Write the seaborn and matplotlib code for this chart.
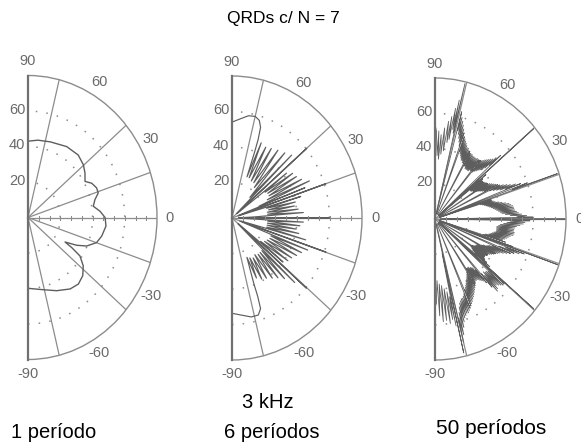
import numpy as np
import pandas as pd
import matplotlib
matplotlib.use("Agg")
import matplotlib.pyplot as plt
import seaborn as sns

sns.set_theme(style="white")
plt.rcParams["font.family"] = ["Liberation Sans", "DejaVu Sans"]

# ---------------------------------------------------------------- data
R_MAX = 80
RINGS = [20, 40, 60]                       # dotted level circles (dB)
SPOKES = [-76, -40.5, -18.5, 0, 18.5, 40.5, 76]   # diffraction-lobe directions (deg)
ANGLE_LABELS = [90, 60, 30, 0, -30, -60, -90]

TITLE = "QRDs c/ N = 7"
FREQ = "3 kHz"
PANEL_NAMES = ["1 período", "6 períodos", "50 períodos"]

# 1 period: (angle deg, level dB)
P1 = [(90, 43), (82, 44), (72, 44.8), (59, 46.6), (48.5, 47), (40.8, 45.4),
      (35.3, 43.3), (29.9, 40.8), (26, 44), (21.4, 45.7), (17.6, 45.7),
      (13.6, 42.7), (8.9, 41), (4.5, 44.8), (0, 47.8), (-5.7, 48.6),
      (-12.9, 46.9), (-18.4, 44.8), (-23.8, 39.8), (-27.4, 34), (-31, 26.8),
      (-32, 32), (-33.9, 38.8), (-38.5, 43.8), (-44, 47.2), (-50.2, 48.8),
      (-57, 48), (-66.7, 44.9), (-76.8, 41.8), (-90, 39.9)]

# 6 periods
P2_UP = [(90, 54), (85, 56), (80, 58.5), (76, 59), (73, 57.5), (71, 54), (70, 47),
         (69.5, 40), (69, 32), (68.3, 25),
         (67, 46), (65, 25), (62.5, 45), (60.3, 24), (58.3, 46), (56, 24),
         (53.5, 47.5), (51.3, 22), (48.5, 49), (46.5, 16), (44, 51), (42.2, 4),
         (40.5, 60.5), (38.8, 4),
         (37, 42), (35.5, 25), (34, 45), (32.3, 26), (30.5, 46), (28.8, 26),
         (27, 48), (25.3, 24), (23.7, 52), (21.8, 18), (20.8, 48), (19.8, 4),
         (18.5, 61), (17.2, 4),
         (16, 44), (14.5, 22), (13, 40), (11.5, 23), (10, 39), (8.5, 22),
         (7, 41), (5.5, 22), (4, 44), (2.5, 14), (1.3, 4)]
P2_LOW = [(0, 60), (-1.3, 5), (-3, 44), (-4.6, 22), (-6, 42), (-7.6, 22), (-9, 40),
          (-10.6, 22), (-12, 42), (-13.6, 22), (-15.2, 47), (-17, 6),
          (-18.4, 61), (-19.8, 5),
          (-21.2, 50), (-22.8, 26), (-24.5, 47), (-26.2, 26), (-28, 45), (-29.8, 25),
          (-31.5, 43), (-33.3, 24), (-35, 42), (-36.8, 22), (-38.3, 40), (-39.5, 5),
          (-40.8, 60.5), (-42, 5),
          (-43.3, 53), (-45, 26), (-46.6, 47), (-48.3, 26), (-50, 44), (-51.8, 26),
          (-53.8, 42), (-55.8, 25), (-58, 40), (-60, 26), (-62, 39), (-64, 25),
          (-66, 37), (-67.5, 24),
          (-69, 31), (-70, 39), (-70.3, 47), (-71, 54), (-73.5, 57), (-78, 57),
          (-84, 55), (-90, 53.7)]

# 50 periods
P3_TOP = [(90, 54), (89, 50), (88, 36), (87.3, 50), (86.5, 34), (85.5, 48),
          (84.5, 37), (83.5, 52), (82.5, 39), (81.5, 56), (80.5, 44), (80, 59),
          (79.3, 46), (78.7, 64), (78, 52), (77.6, 69), (77.2, 50), (76.6, 79), (76, 3)]
P3_B_UP = [(75, 63), (74.5, 52), (74, 60), (73.5, 50), (73, 58), (72.5, 48), (72, 56),
           (71.5, 46), (71, 54), (70.5, 44), (70, 52), (69.5, 3), (69, 50), (68.5, 41),
           (68, 49), (67.5, 40), (67, 48), (66.5, 39), (66, 47), (65.5, 38), (65, 46),
           (64.5, 37), (64, 45), (63.5, 37), (63, 45), (62.5, 36), (62, 44), (61.5, 36),
           (61, 44), (60.5, 3), (60, 43), (59.5, 35), (59, 43), (58.5, 35), (58, 43),
           (57.5, 34), (57, 42.5), (56.5, 34), (56, 42.5), (55.5, 34), (55, 42.5),
           (54.5, 34), (54, 42.5), (53.5, 34), (53, 43), (52.5, 35), (52, 43),
           (51.5, 35), (51, 43), (50.5, 3), (50, 43.5), (49.5, 35), (49, 44),
           (48.5, 36), (48, 45), (47.5, 37), (47, 46), (46.5, 38), (46, 47), (45.5, 39),
           (45, 48), (44.5, 40), (44, 49), (43.5, 42), (43, 51), (42.5, 45), (42, 54),
           (41.5, 3), (40.4, 79), (39.6, 3)]
P3_C_UP = [(39, 40), (38.5, 3), (38, 37), (37.5, 27), (37, 36), (36.5, 27), (36, 36),
           (35.5, 27), (35, 36.5), (34.5, 28), (34, 37), (33.5, 28), (33, 37.5),
           (32.5, 3), (32, 38), (31.5, 30), (31, 39), (30.5, 31), (30, 40), (29.5, 32),
           (29, 41), (28.5, 33), (28, 42), (27.5, 34), (27, 43), (26.5, 3), (26, 44),
           (25.5, 37), (25, 46), (24.5, 39), (24, 48), (23.5, 41), (23, 50), (22.5, 43),
           (22, 53), (21.5, 46), (21, 56), (20.5, 3), (20, 60), (19.5, 50),
           (19, 79), (18.4, 3)]
P3_D_UP = [(18, 36), (17.5, 3), (17, 36), (16.5, 29), (16, 37), (15.5, 30), (15, 38),
           (14.5, 31), (14, 40), (13.5, 32), (13, 42), (12.5, 33), (12, 44), (11.5, 34),
           (11, 46), (10.5, 35), (10, 47), (9.5, 36), (9, 48), (8.5, 37), (8, 48.5),
           (7.5, 38), (7, 48.5), (6.5, 39), (6, 49), (5.5, 40), (5, 50), (4.5, 41),
           (4, 51), (3.5, 43), (3, 53), (2.5, 46), (2, 56), (1.5, 50), (1, 60),
           (0.5, 3), (0, 79.5), (-0.5, 3)]
P3_D_LOW = [(-1, 58), (-1.5, 46), (-2, 55), (-2.5, 44), (-3, 54), (-3.5, 42), (-4, 52),
            (-4.5, 40), (-5, 50), (-5.5, 39), (-6, 49), (-6.5, 38), (-7, 48.5),
            (-7.5, 38), (-8, 48.5), (-8.5, 38), (-9, 49), (-9.5, 38), (-10, 49),
            (-10.5, 38), (-11, 48.5), (-11.5, 37), (-12, 47), (-12.5, 36), (-13, 46),
            (-13.5, 35), (-14, 45), (-14.5, 34), (-15, 44), (-15.5, 32), (-16, 43),
            (-16.5, 31), (-17, 45), (-17.5, 3), (-18.3, 50), (-18.6, 3),
            (-19.1, 79.5), (-19.8, 3)]
P3_C_LOW = [(-20, 58), (-20.5, 46), (-21, 55), (-21.5, 42), (-22, 52), (-22.5, 3),
            (-23, 50), (-23.5, 38), (-24, 48), (-24.5, 36), (-25, 46), (-25.5, 35),
            (-26, 44), (-26.5, 33), (-27, 43), (-27.5, 32), (-28, 42), (-28.5, 3),
            (-29, 41), (-29.5, 30), (-30, 40), (-30.5, 29), (-31, 39), (-31.5, 29),
            (-32, 38), (-32.5, 28), (-33, 38), (-33.5, 27), (-34, 37), (-34.5, 3),
            (-35, 37), (-35.5, 27), (-36, 37), (-36.5, 28), (-37, 38), (-37.5, 29),
            (-38, 40), (-38.5, 31), (-39, 43), (-39.5, 3), (-40.2, 79), (-40.9, 3)]
P3_B_LOW = [(-41, 56), (-41.5, 3), (-42, 56), (-42.5, 44), (-43, 55), (-43.5, 43),
            (-44, 54), (-44.5, 43), (-45, 53), (-45.5, 42), (-46, 55), (-46.5, 44),
            (-47, 56), (-47.5, 42), (-48, 52), (-48.5, 3), (-49, 48), (-49.5, 38),
            (-50, 46), (-50.5, 36), (-51, 45), (-51.5, 35), (-52, 44), (-52.5, 35),
            (-53, 43), (-53.5, 34), (-54, 43), (-54.5, 34), (-55, 43), (-55.5, 34),
            (-56, 44), (-56.5, 3), (-57, 45), (-57.5, 36), (-58, 46), (-58.5, 37),
            (-59, 47), (-59.5, 38), (-60, 48), (-60.5, 39), (-61, 49), (-61.5, 40),
            (-62, 50), (-62.5, 41), (-63, 51), (-63.5, 42), (-64, 52), (-64.5, 43),
            (-65, 53), (-65.5, 44), (-66, 54), (-66.5, 3), (-67, 55), (-67.5, 46),
            (-68, 56), (-68.5, 47), (-69, 57), (-69.5, 48), (-70, 57), (-70.5, 48),
            (-71, 58), (-71.5, 49), (-72, 59), (-72.5, 50), (-73, 61), (-73.5, 52),
            (-74, 64), (-74.5, 55), (-75, 68), (-75.5, 58), (-76, 72), (-76.5, 3),
            (-77, 78), (-77.5, 20)]
P3_BOTTOM = [(-78, 62), (-78.6, 45), (-79.3, 58), (-80, 42), (-81, 60), (-82, 40),
             (-83, 58), (-84, 38), (-85, 58.5), (-86, 37), (-87, 55), (-88, 35),
             (-89, 48), (-90, 50)]

PANELS = [
    P1,
    P2_UP + P2_LOW,
    P3_TOP + P3_B_UP + P3_C_UP + P3_D_UP + P3_D_LOW + P3_C_LOW + P3_B_LOW + P3_BOTTOM,
]
CURVE_LW = [1.0, 0.85, 0.6]

# ---------------------------------------------------------------- layout
W_PX, H_PX = 581, 445
# (centre x, centre y, horizontal radius, vertical radius) in pixels
GEOM = [(28, 217.5, 129, 142), (232, 218, 130, 142), (435, 219, 131, 141)]

CURVE = "#5e5e5e"
GRID = "#8c8c8c"
AXIS = "#707070"
LABEL = "#6a6a6a"

fig = plt.figure(figsize=(W_PX / 100, H_PX / 100), dpi=100)
fig.patch.set_facecolor("white")

for pts, lw, (cx, cy, rx, ry) in zip(PANELS, CURVE_LW, GEOM):
    w, h = 2 * rx, 2 * ry
    left = cx - 0.25 * w
    bottom = H_PX - (cy + ry)
    ax = fig.add_axes([left / W_PX, bottom / H_PX, w / W_PX, h / H_PX],
                      projection="polar")
    ax.set_facecolor("none")
    ax.set_thetamin(-90)
    ax.set_thetamax(90)

    df = pd.DataFrame(pts, columns=["angle", "level"])
    df["theta"] = np.deg2rad(df["angle"])
    sns.lineplot(data=df, x="theta", y="level", sort=False, estimator=None,
                 ax=ax, color=CURVE, lw=lw, legend=False)

    ax.set_ylim(0, R_MAX)
    ax.set_aspect("auto")
    ax.set_xlabel("")
    ax.set_ylabel("")

    ax.set_xticks(np.deg2rad(SPOKES))
    ax.set_xticklabels([])
    ax.set_xticks(np.deg2rad(np.arange(-85, 90, 5)), minor=True)
    ax.set_yticks(RINGS)
    ax.set_yticklabels([])
    ax.grid(False)
    ax.xaxis.grid(True, which="major", color=GRID, lw=0.9, ls="-")
    ax.yaxis.grid(True, which="major", color=GRID, lw=1.1, ls=(0, (1, 6)))
    ax.tick_params(axis="x", which="both", direction="in", length=2.5,
                   color=GRID, width=0.7, pad=0)
    ax.tick_params(axis="y", length=0)

    ax.spines["polar"].set_color(GRID)
    ax.spines["polar"].set_linewidth(1.0)
    for s in ("start", "end"):
        ax.spines[s].set_color(AXIS)
        ax.spines[s].set_linewidth(1.6)
    ax.spines["inner"].set_visible(False)

    # small scale marks along the 0 degree radius
    ax.scatter(np.zeros(11), np.arange(1, 12) * R_MAX / 12, marker="|",
               s=10, color=GRID, linewidths=0.8, zorder=3)

    for a in ANGLE_LABELS:
        ax.text(np.deg2rad(a), 88, str(a), ha="center", va="center",
                fontsize=10.5, color=LABEL, clip_on=False)
    for r in RINGS:
        ax.annotate(str(r), xy=(np.pi / 2, r), xytext=(-2, 1),
                    textcoords="offset points", ha="right", va="center",
                    fontsize=10.5, color=LABEL, annotation_clip=False)

def fig_text(px, py, s, size):
    fig.text(px / W_PX, 1 - py / H_PX, s, ha="center", va="center",
             fontsize=size, color="black")

fig_text(283, 18, TITLE, 12.5)
fig_text(268, 402, FREQ, 14.5)
fig_text(54, 433, PANEL_NAMES[0], 14.5)
fig_text(272, 433, PANEL_NAMES[1], 14.5)
fig_text(491, 428, PANEL_NAMES[2], 15)

fig.savefig("out.png", dpi=100, facecolor="white")
